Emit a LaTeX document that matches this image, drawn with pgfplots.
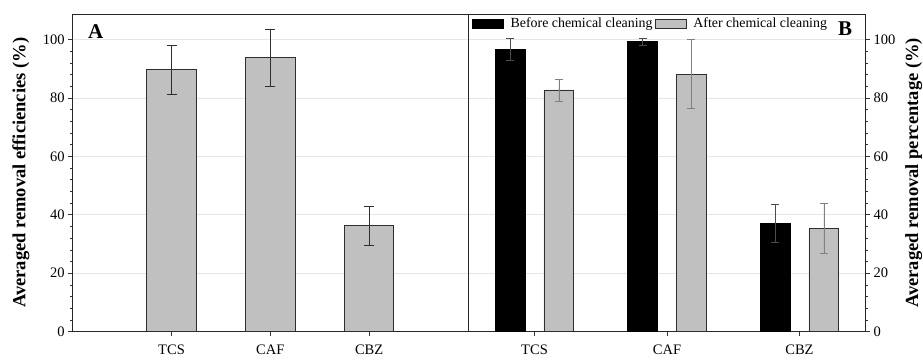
\documentclass[border=0pt]{standalone}
\usepackage{fontspec}
\setmainfont{Liberation Serif}
\usepackage{pgfplots}
\pgfplotsset{compat=1.18}
\definecolor{barg}{HTML}{C0C0C0}
\definecolor{edge}{HTML}{2E2E2E}
\definecolor{gridc}{HTML}{E6E6E6}
\pgfplotsset{
  common/.style={
    scale only axis, height=317.7pt,
    ymin=0, ymax=108.7,
    ytick={0,20,...,100}, minor y tick num=4,
    ymajorgrids, major grid style={gridc, line width=0.6pt},
    tick align=outside, major tick length=4.5pt, minor tick length=2.5pt,
    xtick={1,2,3}, xticklabels={TCS,CAF,CBZ},
    xtick pos=bottom,
    axis line style={line width=0.7pt, black!85},
    tick style={black!80, line width=0.6pt},
    ticklabel style={font=\fontsize{14.5}{16}\selectfont},
    xticklabel style={yshift=-5pt},
    /pgf/number format/assume math mode=true,
  }
}
\begin{document}
\begin{tikzpicture}
\begin{axis}[common, at={(0pt,0pt)}, anchor=south west, width=395.3pt,
  xmin=0, xmax=4, ytick pos=left,
  ylabel={Averaged removal efficiencies (\%)},
  ylabel style={font=\bfseries\fontsize{18.5}{20}\selectfont, at={(axis description cs:-0.1310,0.5)}, anchor=center},
]
\addplot[ybar, bar width=0.5, bar shift=0, fill=barg, draw=edge, line width=0.8pt,
  error bars/.cd, y dir=both, y explicit,
  error bar style={edge, line width=0.6pt}, error mark options={rotate=90, edge, mark size=5pt, line width=0.6pt}]
  coordinates {(1,89.7) += (0,8.3) -= (0,8.4)
               (2,93.7) += (0,9.8) -= (0,9.7)
               (3,36.2) += (0,6.8) -= (0,6.7)};
\node[font=\bfseries\fontsize{21}{22}\selectfont] at (axis description cs:0.0582,0.944) {A};
\end{axis}
\begin{axis}[common, at={(395.6pt,0pt)}, anchor=south west, width=397.4pt,
  xmin=0.5, xmax=3.5, ytick pos=right,
  ylabel={Averaged removal percentage (\%)},
  ylabel style={font=\bfseries\fontsize{18.5}{20}\selectfont, at={(axis description cs:1.121,0.5)}, anchor=center, rotate=0},
  legend style={at={(axis description cs:0.0083,0.9700)}, anchor=west, draw=none, fill=none,
    inner sep=0pt, font=\fontsize{13.9}{15}\selectfont},
  legend columns=2,
]
\addplot[ybar, bar width=0.2256, bar shift=0, fill=black, draw=black, line width=0.8pt,
  legend image code/.code={\draw[fill=black,draw=black] (0pt,-4.5pt) rectangle (31pt,4.5pt); \path (36pt,0pt);},
  error bars/.cd, y dir=both, y explicit,
  error bar style={black!70, line width=0.6pt}, error mark options={rotate=90, black!70, mark size=4pt, line width=0.6pt}]
  coordinates {(0.816,96.6) += (0,3.8) -= (0,3.6)
               (1.816,99.2) += (0,1.3) -= (0,1.2)
               (2.816,37.1) += (0,6.4) -= (0,6.4)};
\addlegendentry{Before chemical cleaning}
\addplot[ybar, bar width=0.2256, bar shift=0, fill=barg, draw=edge, line width=0.8pt,
  legend image code/.code={\draw[fill=barg,draw=edge] (0pt,-4.5pt) rectangle (31pt,4.5pt); \path (36pt,0pt);},
  error bars/.cd, y dir=both, y explicit,
  error bar style={black!50, line width=0.6pt}, error mark options={rotate=90, black!50, mark size=4pt, line width=0.6pt}]
  coordinates {(1.184,82.7) += (0,3.6) -= (0,3.7)
               (2.184,88.1) += (0,12.1) -= (0,11.8)
               (3.184,35.2) += (0,8.6) -= (0,8.3)};
\addlegendentry{After chemical cleaning}
\node[font=\bfseries\fontsize{21}{22}\selectfont] at (axis description cs:0.948,0.953) {B};
\end{axis}
\pgfresetboundingbox
\useasboundingbox (-72.7pt,-27.3pt) rectangle (850.3pt,331.7pt);
\end{tikzpicture}
\end{document}
